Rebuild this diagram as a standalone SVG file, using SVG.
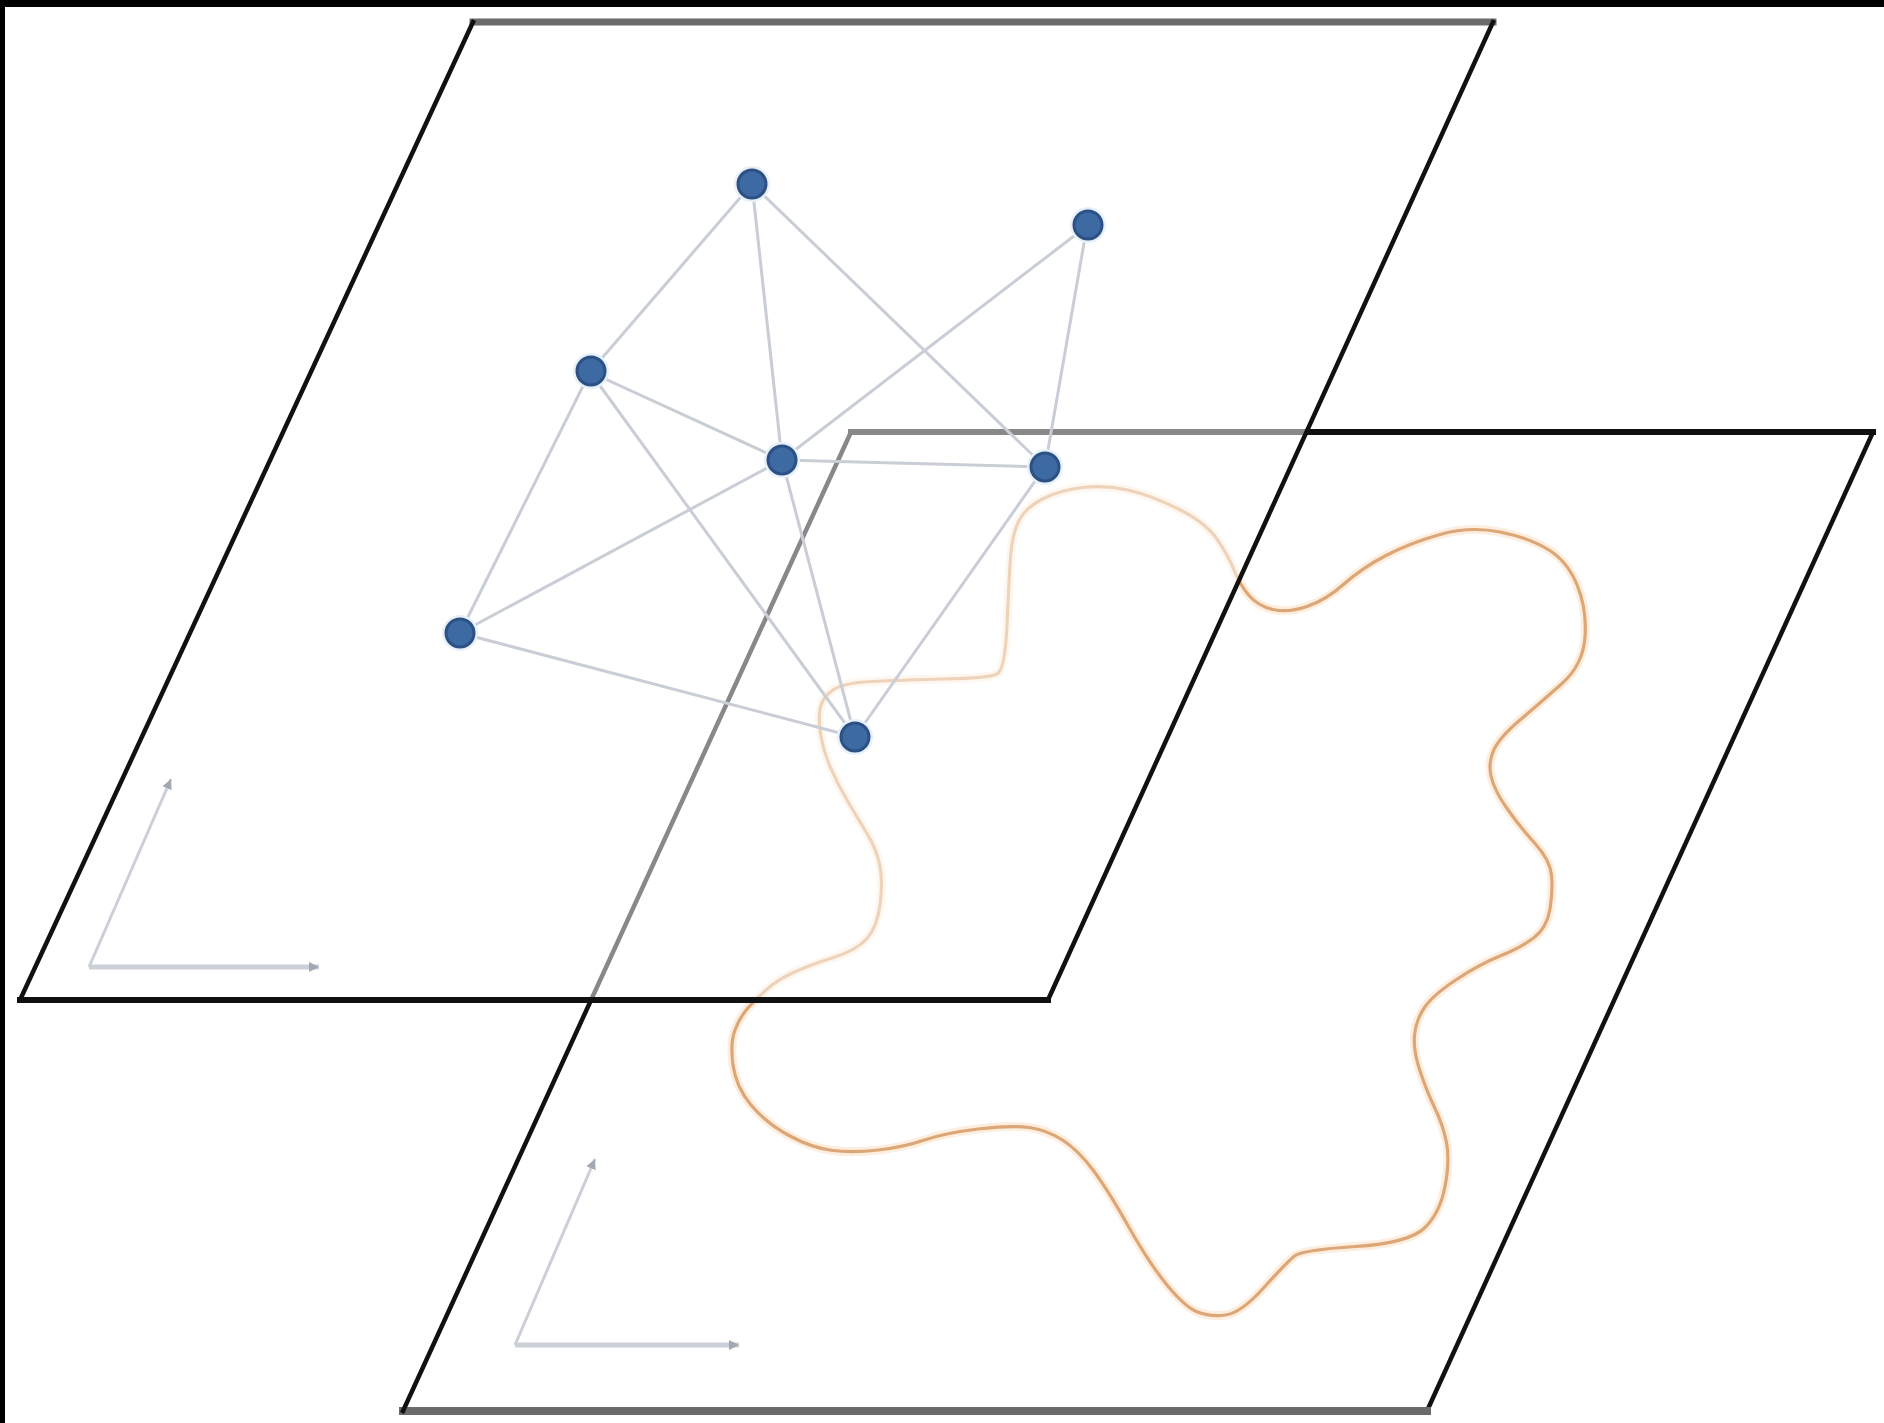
<svg xmlns="http://www.w3.org/2000/svg" width="1884" height="1423" viewBox="0 0 1884 1423">
  <defs>
    <style>
      .edge-black { stroke: #111; fill: none; stroke-linecap: square; }
      .edge-gray { stroke: #6b6b6b; fill: none; stroke-linecap: square; }
      .axis { stroke: #cbcfd7; fill: none; }
      .link { stroke: #c9cdd6; stroke-width: 3; fill: none; }
      .node { fill: #3d6aa3; stroke: #2d5184; stroke-width: 3; }
      .halo { fill: none; stroke: #e6f1fa; stroke-width: 4; }
      .curve { fill: none; stroke: #dca676; stroke-width: 3.2; stroke-linejoin: round; }
      .curve-glow { fill: none; stroke: #fdeedf; stroke-width: 9; stroke-linejoin: round; }
    </style>
    <marker id="arrow" markerUnits="userSpaceOnUse" markerWidth="12" markerHeight="12" refX="10" refY="5" orient="auto">
      <path d="M0,0 L10,5 L0,10 z" fill="#a3a8b2"/>
    </marker>
  </defs>

  <rect x="0" y="0" width="1884" height="1423" fill="#ffffff"/>
  <rect x="0" y="0" width="1884" height="7" fill="#000000"/>
  <rect x="0" y="0" width="5" height="1423" fill="#000000"/>

  <!-- Lower plane -->
  <g id="lower-plane">
    <polygon points="851,432 1873,432 1427,1411 403,1411" fill="#ffffff"/>
    <line class="edge-black" x1="851" y1="432" x2="1873" y2="432" stroke-width="6"/>
    <line class="edge-black" x1="1873" y1="432" x2="1427" y2="1411" stroke-width="4.5"/>
    <line class="edge-gray" x1="1427" y1="1411" x2="403" y2="1411" stroke-width="8" stroke="#717171"/>
    <line class="edge-black" x1="403" y1="1411" x2="851" y2="432" stroke-width="4.5"/>
  </g>

  <g id="region-curve">
    <path class="curve-glow" d="M997,674 Q1005,670 1007,625 Q1009,580 1010.5,557.5 Q1012,535 1018.5,521.5 Q1025,508 1042.5,499 Q1060,490 1082.5,487.5 Q1105,485 1127.5,490 Q1150,495 1177.5,508.5 Q1205,522 1216.5,538.5 Q1228,555 1234,570 Q1240,585 1249,595.5 Q1258,606 1273,609.5 Q1288,613 1307,606.5 Q1326,600 1344,584 Q1362,568 1386,555.5 Q1410,543 1440,534.5 Q1470,526 1500,532 Q1530,538 1549,550 Q1568,562 1577.5,586 Q1587,610 1585,637.5 Q1583,665 1561.5,684 Q1540,703 1520,720 Q1500,737 1494,749.5 Q1488,762 1491,776 Q1494,790 1507,808.5 Q1520,827 1535,843.5 Q1550,860 1551.5,875 Q1553,890 1550,909 Q1547,928 1533.5,938 Q1520,948 1500,956 Q1480,964 1456.5,979.5 Q1433,995 1424.5,1007.5 Q1416,1020 1414.5,1035 Q1413,1050 1420,1071 Q1427,1092 1435,1108.5 Q1443,1125 1446.5,1142.5 Q1450,1160 1445,1186.5 Q1440,1213 1424.5,1228 Q1409,1243 1355.5,1246.5 Q1302,1250 1294.5,1256 Q1287,1262 1264,1287.5 Q1241,1313 1225.5,1315 Q1210,1317 1197.5,1312 Q1185,1307 1167,1285 Q1149,1263 1128.5,1226.5 Q1108,1190 1093,1170 Q1078,1150 1062.5,1140 Q1047,1130 1029,1127.5 Q1011,1125 978,1129 Q945,1133 924.5,1140 Q904,1147 878.5,1150 Q853,1153 832.5,1150.5 Q812,1148 789,1135.5 Q766,1123 751,1105 Q736,1087 733,1065 Q730,1043 735,1030 Q740,1017 747.5,1008.5 Q755,1000 766,990 Q777,980 793.5,972.5 Q810,965 833.5,957.5 Q857,950 867,938.5 Q877,927 880,905 Q883,883 880,866.5 Q877,850 867,833.5 Q857,817 847,800 Q837,783 830,766.5 Q823,750 820.5,733.5 Q818,717 820.5,707 Q823,697 833,690 Q843,683 871.5,681.5 Q900,680 944.5,679 Q989,678 997,674 Z"/>
    <path class="curve" d="M997,674 Q1005,670 1007,625 Q1009,580 1010.5,557.5 Q1012,535 1018.5,521.5 Q1025,508 1042.5,499 Q1060,490 1082.5,487.5 Q1105,485 1127.5,490 Q1150,495 1177.5,508.5 Q1205,522 1216.5,538.5 Q1228,555 1234,570 Q1240,585 1249,595.5 Q1258,606 1273,609.5 Q1288,613 1307,606.5 Q1326,600 1344,584 Q1362,568 1386,555.5 Q1410,543 1440,534.5 Q1470,526 1500,532 Q1530,538 1549,550 Q1568,562 1577.5,586 Q1587,610 1585,637.5 Q1583,665 1561.5,684 Q1540,703 1520,720 Q1500,737 1494,749.5 Q1488,762 1491,776 Q1494,790 1507,808.5 Q1520,827 1535,843.5 Q1550,860 1551.5,875 Q1553,890 1550,909 Q1547,928 1533.5,938 Q1520,948 1500,956 Q1480,964 1456.5,979.5 Q1433,995 1424.5,1007.5 Q1416,1020 1414.5,1035 Q1413,1050 1420,1071 Q1427,1092 1435,1108.5 Q1443,1125 1446.5,1142.5 Q1450,1160 1445,1186.5 Q1440,1213 1424.5,1228 Q1409,1243 1355.5,1246.5 Q1302,1250 1294.5,1256 Q1287,1262 1264,1287.5 Q1241,1313 1225.5,1315 Q1210,1317 1197.5,1312 Q1185,1307 1167,1285 Q1149,1263 1128.5,1226.5 Q1108,1190 1093,1170 Q1078,1150 1062.5,1140 Q1047,1130 1029,1127.5 Q1011,1125 978,1129 Q945,1133 924.5,1140 Q904,1147 878.5,1150 Q853,1153 832.5,1150.5 Q812,1148 789,1135.5 Q766,1123 751,1105 Q736,1087 733,1065 Q730,1043 735,1030 Q740,1017 747.5,1008.5 Q755,1000 766,990 Q777,980 793.5,972.5 Q810,965 833.5,957.5 Q857,950 867,938.5 Q877,927 880,905 Q883,883 880,866.5 Q877,850 867,833.5 Q857,817 847,800 Q837,783 830,766.5 Q823,750 820.5,733.5 Q818,717 820.5,707 Q823,697 833,690 Q843,683 871.5,681.5 Q900,680 944.5,679 Q989,678 997,674 Z"/>
  </g>

  <g id="lower-axes">
    <line class="axis" x1="515" y1="1345" x2="595" y2="1159" stroke-width="3" marker-end="url(#arrow)"/>
    <line class="axis" x1="515" y1="1345" x2="739" y2="1345" stroke-width="5" marker-end="url(#arrow)"/>
  </g>

  <!-- Upper plane (semi-transparent, drawn over lower plane) -->
  <g id="upper-plane">
    <polygon points="473,22 1493,22 1048,1000 20,1000" fill="#ffffff" fill-opacity="0.5"/>
    <line class="edge-gray" x1="473" y1="22" x2="1493" y2="22" stroke-width="7"/>
    <line class="edge-black" x1="1493" y1="22" x2="1048" y2="1000" stroke-width="4.5"/>
    <line class="edge-black" x1="1048" y1="1000" x2="20" y2="1000" stroke-width="6"/>
    <line class="edge-black" x1="20" y1="1000" x2="473" y2="22" stroke-width="4.5"/>
  </g>

  <g id="upper-axes">
    <line class="axis" x1="89" y1="967" x2="171" y2="779" stroke-width="3" marker-end="url(#arrow)"/>
    <line class="axis" x1="89" y1="967" x2="319" y2="967" stroke-width="5" marker-end="url(#arrow)"/>
  </g>

  <g id="connectors">
    <line class="link" x1="752" y1="184" x2="590" y2="372"/>
    <line class="link" x1="752" y1="184" x2="782" y2="460"/>
    <line class="link" x1="752" y1="184" x2="1045" y2="467"/>
    <line class="link" x1="1087" y1="226" x2="782" y2="460"/>
    <line class="link" x1="1087" y1="226" x2="1045" y2="467"/>
    <line class="link" x1="590" y1="372" x2="782" y2="460"/>
    <line class="link" x1="590" y1="372" x2="460" y2="633"/>
    <line class="link" x1="590" y1="372" x2="855" y2="737"/>
    <line class="link" x1="782" y1="460" x2="460" y2="633"/>
    <line class="link" x1="782" y1="460" x2="1045" y2="467" stroke-width="4.5"/>
    <line class="link" x1="782" y1="460" x2="855" y2="737"/>
    <line class="link" x1="460" y1="633" x2="855" y2="737"/>
    <line class="link" x1="1045" y1="467" x2="855" y2="737"/>
  </g>

  <g id="node-a"><circle class="halo" cx="752" cy="184" r="16"/><circle class="node" cx="752" cy="184" r="14"/></g>
  <g id="node-b"><circle class="halo" cx="1088" cy="225" r="16"/><circle class="node" cx="1088" cy="225" r="14"/></g>
  <g id="node-c"><circle class="halo" cx="591" cy="371" r="16"/><circle class="node" cx="591" cy="371" r="14"/></g>
  <g id="node-d"><circle class="halo" cx="782" cy="460" r="16"/><circle class="node" cx="782" cy="460" r="14"/></g>
  <g id="node-e"><circle class="halo" cx="1045" cy="467" r="16"/><circle class="node" cx="1045" cy="467" r="14"/></g>
  <g id="node-f"><circle class="halo" cx="460" cy="633" r="16"/><circle class="node" cx="460" cy="633" r="14"/></g>
  <g id="node-g"><circle class="halo" cx="855" cy="737" r="16"/><circle class="node" cx="855" cy="737" r="14"/></g>
</svg>
